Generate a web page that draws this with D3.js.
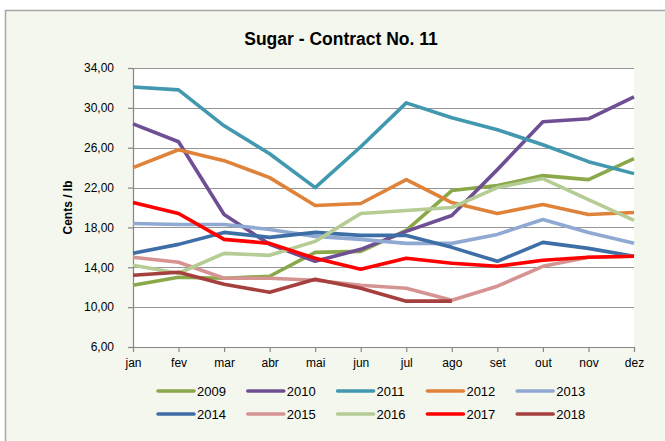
<!DOCTYPE html>
<html>
<head>
<meta charset="utf-8">
<script src="https://cdn.jsdelivr.net/npm/d3@7"></script>
<style>
  body { margin: 0; background: #fff; }
  text { font-family: 'Liberation Sans', Arial, sans-serif; fill: #000; }
</style>
</head>
<body>
<div id="chart"></div>
<script>
// Months and tick values
var months = ['jan', 'fev', 'mar', 'abr', 'mai', 'jun', 'jul', 'ago', 'set', 'out', 'nov', 'dez']
var yTicks = [6, 10, 14, 18, 22, 26, 30, 34]

// Prices (cents / lb)
var years = ['2009', '2010', '2011', '2012', '2013', '2014', '2015', '2016', '2017', '2018']
var v2009 = [12.2, 13.0, 12.9, 13.1, 15.5, 15.6, 17.7, 21.7, 22.2, 23.2, 22.8, 24.9]
var v2010 = [28.4, 26.6, 19.3, 16.3, 14.6, 15.8, 17.6, 19.2, 23.8, 28.6, 28.9, 31.1]
var v2011 = [32.1, 31.8, 28.2, 25.4, 22.0, 26.1, 30.5, 29.0, 27.8, 26.3, 24.6, 23.4]
var v2012 = [24.0, 25.8, 24.7, 23.0, 20.2, 20.4, 22.8, 20.5, 19.4, 20.3, 19.3, 19.5]
var v2013 = [18.4, 18.3, 18.3, 17.8, 17.1, 16.8, 16.4, 16.4, 17.3, 18.8, 17.5, 16.4]
var v2014 = [15.4, 16.3, 17.5, 17.0, 17.5, 17.2, 17.2, 16.0, 14.6, 16.5, 15.9, 15.1]
var v2015 = [15.0, 14.5, 12.9, 12.9, 12.7, 12.2, 11.9, 10.7, 12.1, 14.1, 15.0, 15.1]
var v2016 = [14.2, 13.4, 15.4, 15.2, 16.6, 19.4, 19.7, 20.0, 22.0, 22.9, 20.8, 18.7]
var v2017 = [20.5, 19.4, 16.8, 16.4, 14.9, 13.8, 14.9, 14.4, 14.1, 14.7, 15.0, 15.1]
var v2018 = [13.2, 13.5, 12.3, 11.5, 12.8, 11.9, 10.6, 10.6]

var colors = ['#8aa84a', '#6f4f93', '#4198af', '#e0833a', '#8fa9d3',
  '#3e6ea6', '#d59391', '#b5cc95', '#ff0000', '#a5403e']

var width = 665
var height = 441
var plot = { left: 133, right: 634, top: 68, bottom: 347 }

var svg = d3
  .select('#chart')
  .append('svg')
  .attr('width', width)
  .attr('height', height)

// chart area
svg
  .append('rect')
  .attr('x', 5.5)
  .attr('y', 10.5)
  .attr('width', width + 10)
  .attr('height', height + 10)
  .attr('fill', '#f4f7ee')
  .attr('stroke', '#a6a6a6')
  .attr('stroke-width', 1.5)

svg
  .append('rect')
  .attr('x', plot.left)
  .attr('y', plot.top)
  .attr('width', plot.right - plot.left)
  .attr('height', plot.bottom - plot.top)
  .attr('fill', '#fff')

var xPositionScale = d3.scalePoint().domain(months).range([plot.left, plot.right])
var yPositionScale = d3.scaleLinear().domain([6, 34]).range([plot.bottom, plot.top])
var colorScale = d3.scaleOrdinal().domain(years).range(colors)

// gridlines
svg
  .selectAll('.grid')
  .data(yTicks)
  .enter()
  .append('line')
  .attr('class', 'grid')
  .attr('x1', plot.left)
  .attr('x2', plot.right)
  .attr('y1', d => Math.round(yPositionScale(d)) + 0.5)
  .attr('y2', d => Math.round(yPositionScale(d)) + 0.5)
  .attr('stroke', '#969696')
  .attr('stroke-width', 1.2)

// axes
var yAxis = d3
  .axisLeft(yPositionScale)
  .tickValues(yTicks)
  .tickSize(5)
  .tickPadding(14)
  .tickFormat(d => d.toFixed(2).replace('.', ','))

var yG = svg
  .append('g')
  .attr('class', 'axis y-axis')
  .attr('transform', `translate(${plot.left},0)`)
  .call(yAxis)

var xAxis = d3.axisBottom(xPositionScale).tickSize(5).tickPadding(6).tickSizeOuter(0)

var xG = svg
  .append('g')
  .attr('class', 'axis x-axis')
  .attr('transform', `translate(0,${plot.bottom})`)
  .call(xAxis)

svg.selectAll('.axis path, .axis line').attr('stroke', '#868686').attr('stroke-width', 1.2)
svg.selectAll('.axis text').attr('font-size', 12).attr('font-family', 'Liberation Sans, Arial, sans-serif')
yG.select('.domain').attr('d', `M0.5,${plot.top}V${plot.bottom}`)

// series
var seriesValues = [v2009, v2010, v2011, v2012, v2013, v2014, v2015, v2016, v2017, v2018]
var nested = years.map((y, i) => ({ key: y, values: seriesValues[i] }))

var line = d3
  .line()
  .x((d, i) => xPositionScale(months[i]))
  .y(d => yPositionScale(d))

svg
  .selectAll('.price-line')
  .data(nested)
  .enter()
  .append('path')
  .attr('class', 'price-line')
  .attr('d', d => line(d.values))
  .attr('fill', 'none')
  .attr('stroke', d => colorScale(d.key))
  .attr('stroke-width', 3.6)
  .attr('stroke-linejoin', 'round')

// title
svg
  .append('text')
  .attr('x', 341)
  .attr('y', 45)
  .attr('text-anchor', 'middle')
  .attr('font-size', 17.5)
  .attr('font-weight', 'bold')
  .text('Sugar - Contract No. 11')

// y axis title
svg
  .append('text')
  .attr('transform', `translate(72,${(plot.top + plot.bottom) / 2}) rotate(-90)`)
  .attr('text-anchor', 'middle')
  .attr('font-size', 12)
  .attr('font-weight', 'bold')
  .text('Cents / lb')

// legend
var legend = svg
  .selectAll('.legend')
  .data(nested)
  .enter()
  .append('g')
  .attr('class', 'legend')
  .attr('transform', (d, i) => `translate(${158 + (i % 5) * 89.8},${i < 5 ? 391 : 414})`)

legend
  .append('line')
  .attr('x1', 0)
  .attr('x2', 36)
  .attr('stroke', d => colorScale(d.key))
  .attr('stroke-width', 3.6)
  .attr('stroke-linecap', 'round')

legend
  .append('text')
  .attr('x', 39)
  .attr('dy', '0.35em')
  .attr('font-size', 13)
  .text(d => d.key)
</script>
</body>
</html>
